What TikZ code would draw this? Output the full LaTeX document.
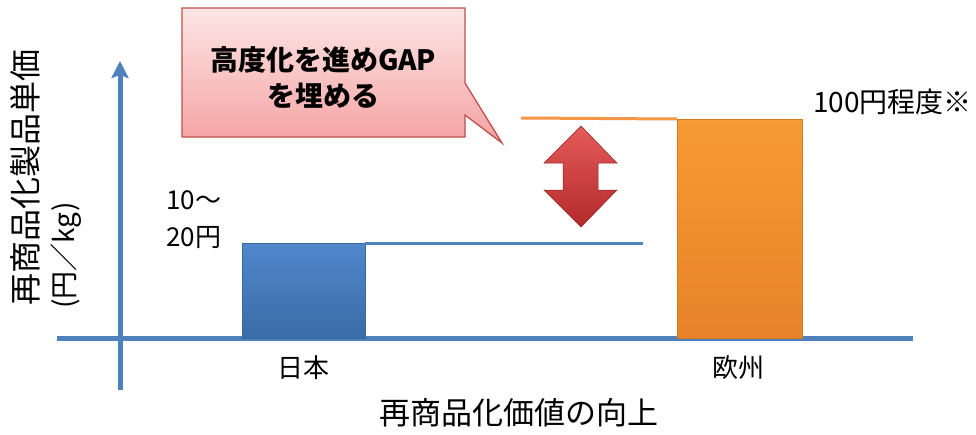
\documentclass[tikz,border=0pt]{standalone}
\usepackage{fontspec}
\setmainfont{Noto Sans CJK JP}
\usetikzlibrary{arrows.meta}
\definecolor{axisblue}{HTML}{4F81BD}
\definecolor{bartop}{HTML}{4F88CC}
\definecolor{barbot}{HTML}{3B6BA8}
\definecolor{barline}{HTML}{3A679C}
\definecolor{orgtop}{HTML}{F89A32}
\definecolor{orgbot}{HTML}{E6832A}
\definecolor{orgline}{HTML}{D7791F}
\definecolor{orgrule}{HTML}{F79646}
\definecolor{calltop}{HTML}{FDE6E6}
\definecolor{callbot}{HTML}{F4A2A2}
\definecolor{callline}{HTML}{C0504D}
\definecolor{arrtop}{HTML}{E55A5A}
\definecolor{arrbot}{HTML}{B42A2A}
\tikzset{
  axisline/.style={draw=axisblue, line width=5pt},
  levelline/.style={line width=3pt},
  barbox/.style={inner sep=0pt, outer sep=0pt, line width=1pt, anchor=south west},
  lbl/.style={inner sep=0pt, font=\fontsize{26}{30}\selectfont},
}
\begin{document}
\begin{tikzpicture}[x=1pt,y=-1pt]
\useasboundingbox[fill=white] (0,0) rectangle (976,434);
% axes
\coordinate (xs) at (57,338);
\coordinate (xe) at (913,338);
\coordinate (ys) at (120,390);
\coordinate (ye) at (120,61);
\draw[axisline] (xs) -- (xe);
\draw[axisline, -{Stealth[length=17pt,width=17pt,inset=3pt]}] (ys) -- (ye);
% bars
\node[barbox, draw=barline, top color=bartop, bottom color=barbot,
      minimum width=123pt, minimum height=95pt] (jp) at (242,338) {};
\node[barbox, draw=orgline, top color=orgtop, bottom color=orgbot,
      minimum width=125pt, minimum height=219pt] (eu) at (677,338) {};
% level lines
\coordinate (jpend) at (643,243);
\coordinate (eustart) at (521,118);
\draw[levelline, axisblue] (jp.north east) -- (jpend);
\draw[levelline, orgrule] (eustart) -- (eu.north west);
% double arrow
\shade[top color=arrtop, bottom color=arrbot, draw=arrbot!80!black, line width=0.5pt]
  (581,126) -- (617,163) -- (598,163) -- (598,190) -- (617,190) -- (581,227)
  -- (544,190) -- (563,190) -- (563,163) -- (544,163) -- cycle;
% callout
\shade[top color=calltop, bottom color=callbot]
  (182,8) -- (465,8) -- (465,83) -- (502,143) -- (465,115) -- (465,137) -- (182,137) -- cycle;
\draw[callline, line width=1.3pt, line join=miter]
  (182,8) -- (465,8) -- (465,83) -- (502,143) -- (465,115) -- (465,137) -- (182,137) -- cycle;
\node[inner sep=0pt, align=center, font=\fontsize{28}{36}\selectfont\bfseries] (call) at (323,77)
  {高度化を進めGAP\\を埋める};
% labels
\node[lbl, anchor=west, align=left, font=\fontsize{26}{37}\selectfont] (jpval) at (166,220) {10～\\20円};
\node[lbl, anchor=west, font=\fontsize{28}{30}\selectfont] (euval) at (813,102) {100円程度※};
\node[lbl] (jplbl) at (303,368) {日本};
\node[lbl] (eulbl) at (738,368) {欧州};
\node[lbl, font=\fontsize{31}{36}\selectfont] (xlbl) at (519,413) {再商品化価値の向上};
\node[lbl, rotate=90, anchor=west, font=\fontsize{32}{36}\selectfont] (ylbl1) at (25,306) {再商品化製品単価};
\node[lbl, rotate=90, anchor=west, font=\fontsize{28}{36}\selectfont] (ylbl2) at (66,309) {(円／kg)};
\end{tikzpicture}
\end{document}
